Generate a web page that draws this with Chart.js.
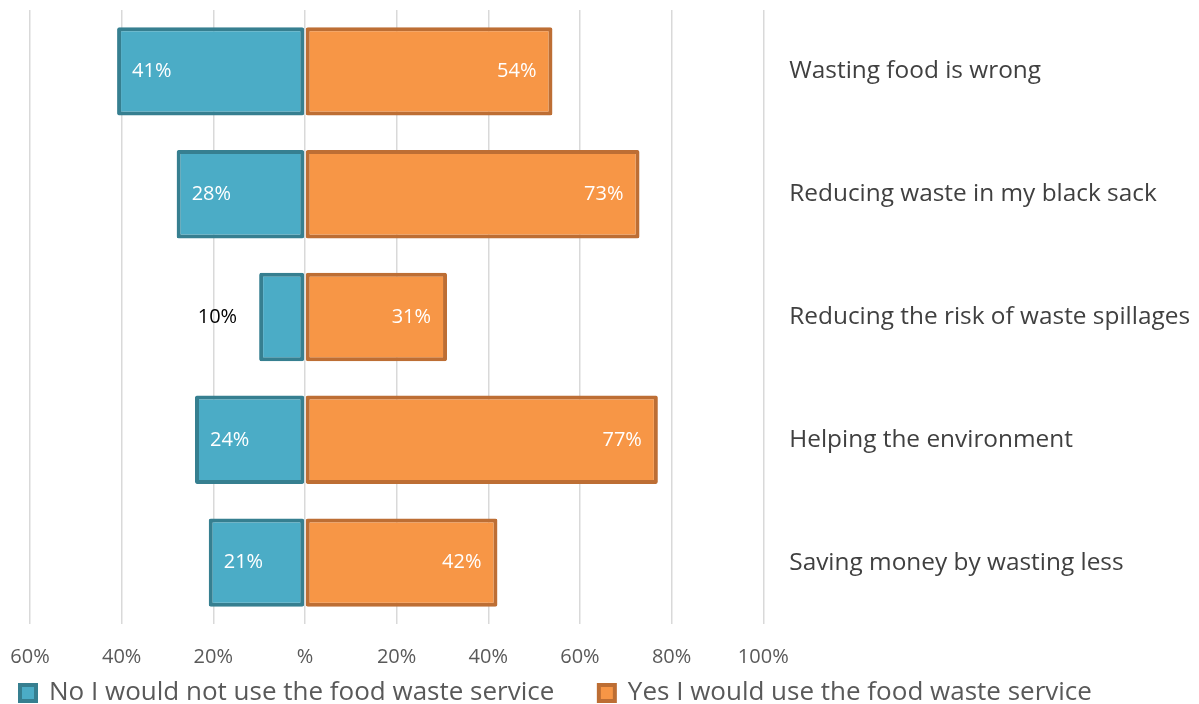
<!DOCTYPE html>
<html>
<head>
<meta charset="utf-8">
<script src="https://cdn.jsdelivr.net/npm/chart.js@4"></script>
<style>
  body { margin:0; background:#fff; }
  #wrap { width:1199px; height:704px; }
</style>
</head>
<body>
<div id="wrap"><canvas id="chartReasons"></canvas></div>
<script>
// Datos
const categories = ['Wasting food is wrong', 'Reducing waste in my black sack', 'Reducing the risk of waste spillages', 'Helping the environment', 'Saving money by wasting less'];
const noValues = [-41, -28, -10, -24, -21];
const yesValues = [54, 73, 31, 77, 42];
const seriesNames = ['No I would not use the food waste service', 'Yes I would use the food waste service'];
const xTicks = [-60, -40, -20, 0, 20, 40, 60, 80, 100];

Chart.defaults.font.family = 'Open Sans';

// etiquetas dentro de las barras
const barLabels = {
  id: 'barLabels',
  afterDatasetsDraw(chart){
    const ctx = chart.ctx;
    ctx.save();
    ctx.font = '20px "Open Sans"';
    ctx.textBaseline = 'middle';
    chart.data.datasets.forEach((ds, di)=>{
      chart.getDatasetMeta(di).data.forEach((bar, i)=>{
        const txt = Math.abs(ds.data[i]) + '%';
        const w = Math.abs(bar.x - bar.base);
        if (di === 0) {
          if (w < 60) {
            ctx.fillStyle = '#000';
            ctx.textAlign = 'right';
            ctx.fillText(txt, bar.x - 22, bar.y);
          } else {
            ctx.fillStyle = '#fff';
            ctx.textAlign = 'left';
            ctx.fillText(txt, bar.x + 15, bar.y);
          }
        } else {
          ctx.fillStyle = '#fff';
          ctx.textAlign = 'right';
          ctx.fillText(txt, bar.x - 16, bar.y);
        }
      });
    });
    ctx.restore();
  }
};

function draw(){
  new Chart(document.getElementById('chartReasons'), {
    type: 'bar',
    data: {
      labels: categories,
      datasets: [{
        label: seriesNames[0],
        data: noValues,
        backgroundColor: '#4bacc6',
        borderColor: '#367f90',
        borderWidth: 4,
        borderSkipped: false,
        borderRadius: 2,
        categoryPercentage: 1,
        barPercentage: 0.72
      }, {
        label: seriesNames[1],
        data: yesValues,
        backgroundColor: '#f79646',
        borderColor: '#bd6e34',
        borderWidth: 4,
        borderSkipped: false,
        borderRadius: 2,
        categoryPercentage: 1,
        barPercentage: 0.72
      }]
    },
    options: {
      indexAxis: 'y',
      responsive: true,
      maintainAspectRatio: false,
      animation: false,
      layout: { padding: { left: 16, top: 10, right: 9, bottom: -12 } },
      plugins: {
        tooltip: { enabled: false },
        legend: {
          position: 'bottom',
          align: 'start',
          labels: {
            boxWidth: 16, boxHeight: 16,
            color: '#595959',
            font: { size: 26, lineHeight: 1 },
            padding: 4,
            // separación entre las dos entradas
            generateLabels: (chart)=>{
              const items = Chart.defaults.plugins.legend.labels.generateLabels(chart);
              items[0].text += '\u00a0\u00a0\u00a0\u00a0\u00a0\u00a0';
              return items;
            }
          }
        }
      },
      scales: {
        x: {
          stacked: true,
          min: -60, max: 100,
          afterBuildTicks: (axis)=>{ axis.ticks = xTicks.map(v=>({value:v})); },
          afterFit: (axis)=>{ axis.paddingLeft = 30; axis.paddingRight = 0; axis.height -= 14; },
          ticks: {
            color: '#595959',
            font: { size: 20, lineHeight: 1 },
            padding: 23,
            callback: v => v === 0 ? '%' : Math.abs(v) + '%'
          },
          grid: { color: '#d9d9d9', lineWidth: 1.5, drawTicks: false },
          border: { display: false }
        },
        y: {
          stacked: true,
          position: 'right',
          afterFit: (axis)=>{ axis.paddingTop = 0; axis.paddingBottom = 0; axis.width -= 26; },
          grid: { display: false, drawTicks: false },
          border: { display: false },
          ticks: { color: '#404040', font: { size: 24.4 }, padding: 26 }
        }
      }
    },
    plugins: [barLabels]
  });
}

// esperar la fuente antes de medir
Promise.all([
  document.fonts.load('24px "Open Sans"'),
  document.fonts.load('26px "Open Sans"')
]).then(draw, draw);
</script>
</body>
</html>
